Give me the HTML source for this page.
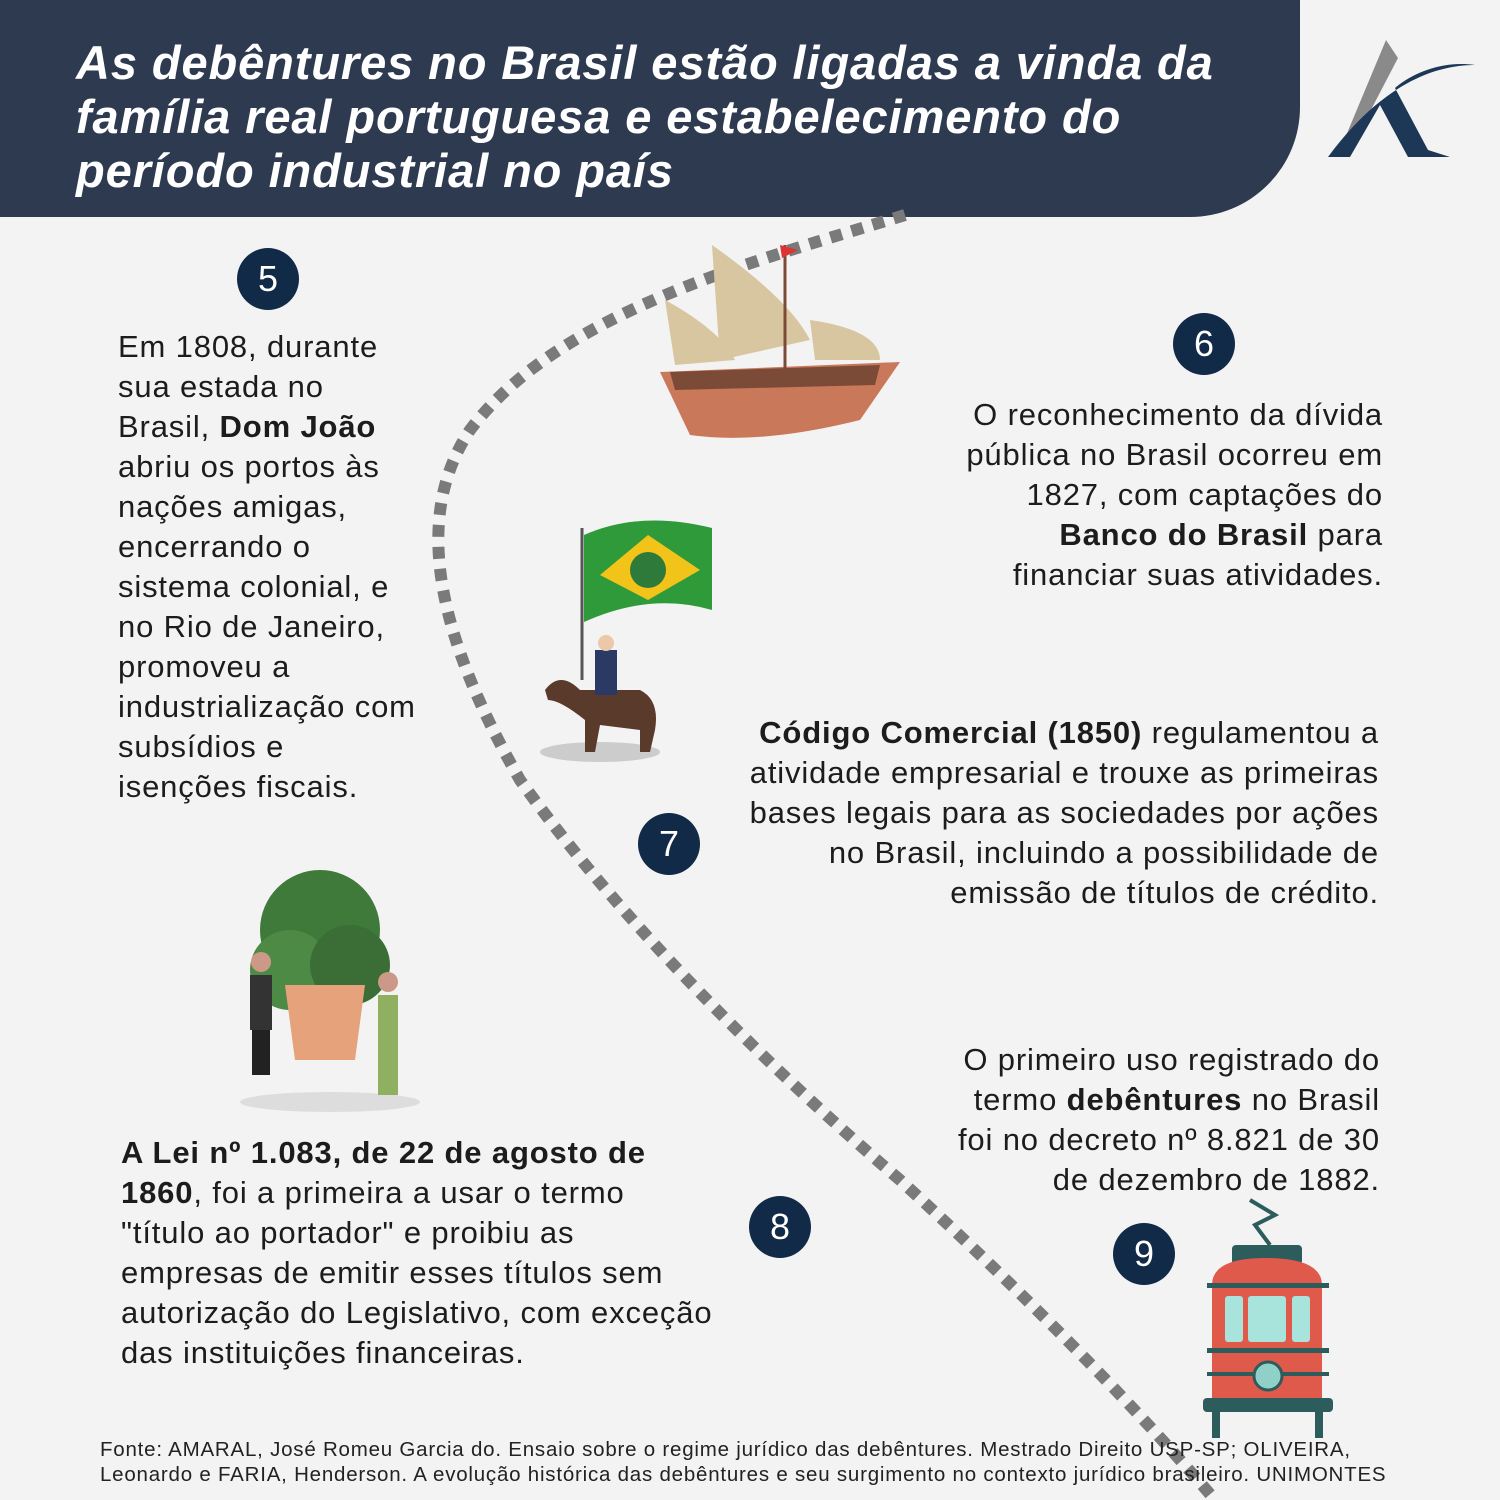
<!DOCTYPE html>
<html><head><meta charset="utf-8"><style>
body{margin:0;width:1500px;height:1500px;background:#f3f3f3;position:relative;overflow:hidden;font-family:"Liberation Sans",sans-serif;color:#1c1c1c}
.hdr{position:absolute;left:0;top:0;width:1300px;height:217px;background:#2e3a50;border-bottom-right-radius:110px}
.hdr div{position:absolute;left:76px;top:36px;color:#fff;font-weight:bold;font-style:italic;font-size:47px;line-height:54px;letter-spacing:0.9px}
.n{position:absolute;width:62px;height:62px;border-radius:50%;background:#112a47;color:#fff;font-family:"Liberation Sans",sans-serif;font-size:36px;line-height:62px;text-align:center}
.t{position:absolute;font-size:31px;line-height:40px;letter-spacing:0.85px}
.r{text-align:right}
.src{position:absolute;left:100px;top:1437px;font-size:20.5px;line-height:25px;color:#222;letter-spacing:0.78px}
</style></head><body>
<div class="hdr"><div>As debêntures no Brasil estão ligadas a vinda da<br>família real portuguesa e estabelecimento do<br>período industrial no país</div></div>
<svg style="position:absolute;left:0;top:0" width="1500" height="1500">
<path d="M905 215 C760 260 560 310 470 430 C410 520 440 640 520 780 C620 920 760 1060 900 1180 C1020 1290 1130 1400 1215 1500" fill="none" stroke="#7a7a7a" stroke-width="12" stroke-dasharray="12 10"/>
<path d="M1340 150 L1386 40 L1398 58 L1350 150 Z" fill="#8a8a8a"/>
<path d="M1328 157 C1370 100 1420 65 1475 65 C1440 60 1410 75 1395 88 L1428 150 L1450 157 L1408 157 L1380 105 L1350 157 Z" fill="#1d3857"/>
<path d="M660 372 L900 362 L860 420 Q760 445 690 435 Z" fill="#c9785a"/>
<path d="M670 372 L880 365 L875 385 L675 390 Z" fill="#7b4b38"/>
<path d="M712 245 Q790 300 810 340 L720 360 Z" fill="#d8c6a0"/>
<path d="M665 300 Q720 330 735 360 L675 365 Z" fill="#d8c6a0"/>
<path d="M810 320 Q880 330 880 360 L815 360 Z" fill="#d8c6a0"/>
<line x1="785" y1="245" x2="785" y2="370" stroke="#7b4b38" stroke-width="3"/>
<path d="M780 245 L798 250 L782 258 Z" fill="#d33"/>
<line x1="582" y1="528" x2="582" y2="680" stroke="#555" stroke-width="3"/>
<path d="M584 535 Q640 510 712 528 L712 610 Q650 592 584 622 Z" fill="#2e9a3a"/>
<path d="M600 575 L648 535 L700 570 L648 600 Z" fill="#f2c319"/>
<circle cx="648" cy="570" r="18" fill="#2e7a3a"/>
<ellipse cx="600" cy="752" rx="60" ry="10" fill="#ccc"/>
<path d="M545 690 Q560 670 580 690 L640 690 Q660 700 655 730 L650 752 L640 752 L640 730 L600 725 L595 752 L585 752 L585 720 Q560 700 548 700 Z" fill="#5a3a2a"/>
<rect x="595" y="650" width="22" height="45" fill="#2b3a64"/>
<circle cx="606" cy="643" r="8" fill="#eac8a8"/>
<circle cx="320" cy="930" r="60" fill="#3f7a3a"/>
<circle cx="290" cy="970" r="40" fill="#4d8a45"/>
<circle cx="350" cy="965" r="40" fill="#3a6e36"/>
<path d="M285 985 L365 985 L355 1060 L295 1060 Z" fill="#e6a27a"/>
<ellipse cx="330" cy="1102" rx="90" ry="10" fill="#ddd"/>
<rect x="250" y="975" width="22" height="55" fill="#333"/>
<rect x="252" y="1030" width="18" height="45" fill="#222"/>
<circle cx="261" cy="962" r="10" fill="#c98"/>
<rect x="378" y="995" width="20" height="100" fill="#8fb060"/>
<circle cx="388" cy="982" r="10" fill="#c98"/>
<path d="M1250 1200 L1275 1215 L1255 1225 L1270 1245" fill="none" stroke="#2d5c5c" stroke-width="4"/>
<rect x="1232" y="1245" width="70" height="20" rx="4" fill="#2d5c5c"/>
<path d="M1212 1285 Q1212 1258 1265 1258 Q1322 1258 1322 1285 L1322 1400 L1212 1400 Z" fill="#df5a4a"/>
<rect x="1207" y="1283" width="122" height="5" fill="#2d5c5c"/>
<rect x="1207" y="1348" width="122" height="5" fill="#2d5c5c"/>
<rect x="1207" y="1372" width="122" height="4" fill="#2d5c5c"/>
<rect x="1225" y="1296" width="18" height="46" rx="3" fill="#a8e4dc"/>
<rect x="1248" y="1296" width="38" height="46" rx="3" fill="#a8e4dc"/>
<rect x="1292" y="1296" width="18" height="46" rx="3" fill="#a8e4dc"/>
<circle cx="1268" cy="1376" r="14" fill="#8fd0c8" stroke="#2d5c5c" stroke-width="3"/>
<rect x="1203" y="1398" width="130" height="14" rx="4" fill="#2d5c5c"/>
<rect x="1212" y="1410" width="8" height="28" fill="#2d5c5c"/>
<rect x="1315" y="1410" width="8" height="28" fill="#2d5c5c"/>
</svg>
<div class="n" style="left:237px;top:248px">5</div>
<div class="n" style="left:1173px;top:313px">6</div>
<div class="n" style="left:638px;top:813px">7</div>
<div class="n" style="left:749px;top:1196px">8</div>
<div class="n" style="left:1113px;top:1223px">9</div>
<div class="t" style="left:118px;top:327px">Em 1808, durante<br>sua estada no<br>Brasil, <b>Dom João</b><br>abriu os portos às<br>nações amigas,<br>encerrando o<br>sistema colonial, e<br>no Rio de Janeiro,<br>promoveu a<br>industrialização com<br>subsídios e<br>isenções fiscais.</div>
<div class="t r" style="right:117px;top:395px">O reconhecimento da dívida<br>pública no Brasil ocorreu em<br>1827, com captações do<br><b>Banco do Brasil</b> para<br>financiar suas atividades.</div>
<div class="t r" style="right:121px;top:713px"><b>Código Comercial (1850)</b> regulamentou a<br>atividade empresarial e trouxe as primeiras<br>bases legais para as sociedades por ações<br>no Brasil, incluindo a possibilidade de<br>emissão de títulos de crédito.</div>
<div class="t" style="left:121px;top:1133px"><b>A Lei nº 1.083, de 22 de agosto de<br>1860</b>, foi a primeira a usar o termo<br>"título ao portador" e proibiu as<br>empresas de emitir esses títulos sem<br>autorização do Legislativo, com exceção<br>das instituições financeiras.</div>
<div class="t r" style="right:120px;top:1040px">O primeiro uso registrado do<br>termo <b>debêntures</b> no Brasil<br>foi no decreto nº 8.821 de 30<br>de dezembro de 1882.</div>
<div class="src">Fonte: AMARAL, José Romeu Garcia do. Ensaio sobre o regime jurídico das debêntures. Mestrado Direito USP-SP; OLIVEIRA,<br>Leonardo e FARIA, Henderson. A evolução histórica das debêntures e seu surgimento no contexto jurídico brasileiro. UNIMONTES</div>
</body></html>
